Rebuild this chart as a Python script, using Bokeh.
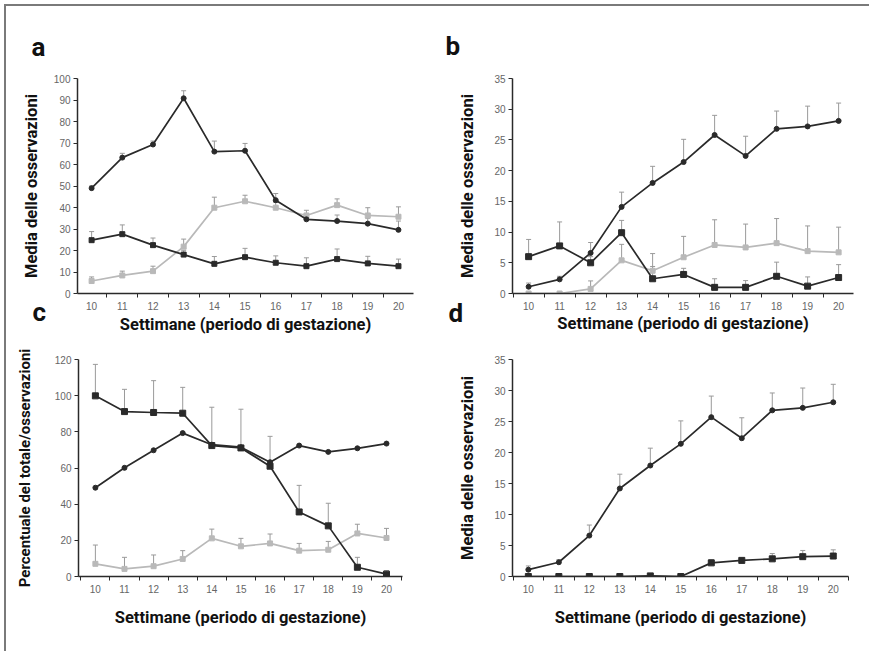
from bokeh.plotting import figure
from bokeh.models import (ColumnDataSource, Whisker, TeeHead, FixedTicker, Range1d, Title, Div)
from bokeh.layouts import column, row
from bokeh.embed import file_html
from bokeh.resources import INLINE

weeks = [10, 11, 12, 13, 14, 15, 16, 17, 18, 19, 20]
minor_weeks = [9.5, 10.5, 11.5, 12.5, 13.5, 14.5, 15.5, 16.5, 17.5, 18.5, 19.5, 20.5]

# Panel a
a_black = [49.0, 63.2, 69.3, 90.8, 66.0, 66.4, 43.4, 34.5, 33.7, 32.5, 29.6]
a_black_err = [1.0, 2.0, 1.6, 3.5, 4.9, 3.4, 3.1, 2.5, 2.8, 2.5, 4.1]
a_dark = [24.8, 27.6, 22.5, 18.1, 13.8, 16.9, 14.3, 12.7, 16.0, 14.0, 12.7]
a_dark_err = [4.0, 4.3, 3.3, 2.0, 3.4, 4.1, 3.2, 3.9, 4.7, 3.3, 3.3]
a_light = [5.8, 8.4, 10.4, 21.8, 39.9, 42.9, 39.9, 36.3, 41.1, 36.3, 35.7]
a_light_err = [1.9, 2.0, 2.3, 3.5, 4.9, 2.8, 2.5, 2.4, 2.9, 3.6, 4.6]

# Panel b
b_black = [1.1, 2.3, 6.6, 14.1, 18.0, 21.4, 25.8, 22.4, 26.8, 27.2, 28.1]
b_black_err = [0.6, 0.5, 1.7, 2.4, 2.7, 3.7, 3.2, 3.2, 2.9, 3.3, 2.9]
b_dark = [6.0, 7.75, 5.0, 9.9, 2.4, 3.1, 1.0, 1.0, 2.8, 1.2, 2.6]
b_dark_err = [2.8, 3.9, 1.0, 2.0, 2.0, 1.0, 1.4, 1.1, 2.3, 1.5, 2.1]
b_light = [0.0, 0.0, 0.75, 5.4, 3.7, 5.9, 7.9, 7.5, 8.2, 6.9, 6.7]
b_light_err = [0.0, 0.0, 1.3, 2.6, 2.8, 3.4, 4.1, 3.8, 4.0, 4.1, 4.1]

# Panel c
c_black = [49.1, 60.1, 69.8, 79.3, 72.9, 71.5, 63.2, 72.4, 68.9, 70.9, 73.5]
c_black_err = [0, 0, 0, 0, 0, 0, 0, 0, 0, 0, 0]
c_dark = [99.9, 91.2, 90.7, 90.3, 72.4, 71.1, 61.0, 35.7, 28.0, 5.1, 1.3]
c_dark_err = [17.4, 12.3, 17.6, 14.3, 21.2, 21.4, 16.5, 14.7, 12.5, 5.5, 2.0]
c_light = [7.0, 4.2, 5.7, 9.7, 21.1, 16.7, 18.3, 14.3, 14.8, 23.8, 21.3]
c_light_err = [10.4, 6.4, 6.2, 4.6, 5.1, 4.4, 5.2, 4.0, 4.6, 5.1, 5.3]

# Panel d
d_black = [1.1, 2.3, 6.6, 14.2, 17.9, 21.4, 25.7, 22.3, 26.8, 27.2, 28.1]
d_black_err = [0.6, 0.4, 1.7, 2.3, 2.8, 3.7, 3.4, 3.3, 2.8, 3.2, 2.9]
d_dark = [0.0, 0.0, 0.0, 0.0, 0.1, 0.0, 2.2, 2.6, 2.85, 3.2, 3.3]
d_dark_err = [0.0, 0.0, 0.0, 0.0, 0.1, 0.0, 0.5, 0.4, 0.85, 1.0, 1.0]

x_title = "Settimane (periodo di gestazione)"
y_title_mean = "Media delle osservazioni"
y_title_pct = "Percentuale del totale/osservazioni"

LABEL_FONT = "Roboto"
TICK_FONT = "Liberation Sans"
DARK = "#2a2a2a"
LIGHT = "#b9b9b9"
ERR = "#9a9a9a"
FRAME = "#7a7a7a"


def add_series(p, ys, errs, color, marker, size):
    upper = [y + e for y, e in zip(ys, errs)]
    src = ColumnDataSource(dict(x=weeks, y=ys, upper=upper))
    if any(e > 0 for e in errs):
        w = Whisker(source=src, base="x", lower="y", upper="upper",
                    line_color=ERR, line_width=1,
                    upper_head=TeeHead(size=5, line_color=ERR, line_width=1),
                    lower_head=None)
        p.add_layout(w)
    p.line("x", "y", source=src, line_color=color, line_width=1.7)
    p.scatter("x", "y", source=src, marker=marker, size=size,
              fill_color=color, line_color=color)


def make_panel(width, height, mb_left, mb_right, mb_top, mb_bottom,
               xr, ymax, ystep, ylabel, xlabel, x_standoff, y_standoff,
               ylabel_size="16.5px"):
    p = figure(width=width, height=height, output_backend="svg",
               toolbar_location=None,
               x_range=Range1d(*xr), y_range=Range1d(0, ymax),
               min_border_left=mb_left, min_border_right=mb_right,
               min_border_top=mb_top, min_border_bottom=mb_bottom)
    p.outline_line_color = None
    p.grid.visible = False
    p.xaxis.ticker = FixedTicker(ticks=weeks, minor_ticks=minor_weeks)
    p.yaxis.ticker = FixedTicker(ticks=list(range(0, ymax + 1, ystep)))
    for ax in (p.xaxis, p.yaxis):
        ax.axis_line_color = DARK
        ax.axis_line_width = 1.5
        ax.major_label_text_font = TICK_FONT
        ax.major_label_text_font_size = "10px"
        ax.major_label_text_color = "#666666"
        ax.axis_label_text_font = LABEL_FONT
        ax.axis_label_text_font_style = "bold"
        ax.axis_label_text_font_size = "16.5px"
        ax.axis_label_text_color = "#111111"
    p.yaxis.axis_label_text_font_size = ylabel_size
    p.xaxis.major_tick_out = 0
    p.xaxis.major_tick_in = 0
    p.xaxis.minor_tick_out = 4
    p.xaxis.minor_tick_in = 0
    p.xaxis.minor_tick_line_color = DARK
    p.yaxis.major_tick_out = 4
    p.yaxis.major_tick_in = 0
    p.yaxis.major_tick_line_color = DARK
    p.yaxis.minor_tick_line_color = None
    p.xaxis.major_label_standoff = 4
    p.yaxis.major_label_standoff = 3
    if xlabel:
        p.xaxis.axis_label = xlabel
        p.xaxis.axis_label_standoff = x_standoff
    p.yaxis.axis_label = ylabel
    p.yaxis.axis_label_standoff = y_standoff
    return p


def letter_above(p, txt, offset, standoff):
    p.add_layout(Title(text=txt, align="left", offset=offset, standoff=standoff,
                       vertical_align="middle", text_font=LABEL_FONT,
                       text_font_style="bold", text_font_size="26px",
                       text_color="#111111"), "above")


def letter_and_xtitle_below(p, txt, offset, l_standoff, x_standoff):
    # panel letter drawn level with the x-axis title (near zero-height title)
    p.add_layout(Title(text=txt, align="left", offset=offset, standoff=l_standoff,
                       vertical_align="top", text_font=LABEL_FONT,
                       text_font_style="bold", text_font_size="26px",
                       text_color="#111111"), "below")
    p.add_layout(Title(text=x_title, align="center", standoff=x_standoff,
                       vertical_align="top", text_font=LABEL_FONT,
                       text_font_style="bold", text_font_size="16.5px",
                       text_color="#111111"), "below")


pa = make_panel(431, 332, 71, 24, 70, 45, (9.54, 20.49), 100, 10, y_title_mean,
                None, 0, 10)
add_series(pa, a_light, a_light_err, LIGHT, "square", 5)
add_series(pa, a_dark, a_dark_err, DARK, "square", 5)
add_series(pa, a_black, a_black_err, DARK, "circle", 5)

pb = make_panel(432, 332, 75, 16, 72, 43, (9.48, 20.48), 35, 5, y_title_mean,
                None, 0, 14)
add_series(pb, b_light, b_light_err, LIGHT, "square", 5)
add_series(pb, b_dark, b_dark_err, DARK, "square", 6)
add_series(pb, b_black, b_black_err, DARK, "circle", 5)

pc = make_panel(431, 313, 72, 35, 21, 73, (9.42, 20.55), 120, 20, y_title_pct,
                x_title, 12, 18, ylabel_size="15px")
add_series(pc, c_light, c_light_err, LIGHT, "square", 5)
add_series(pc, c_dark, c_dark_err, DARK, "square", 6)
add_series(pc, c_black, c_black_err, DARK, "circle", 5)

pd_ = make_panel(432, 313, 75, 21, 21, 75, (9.48, 20.5), 35, 5, y_title_mean,
                 x_title, 12, 14)
add_series(pd_, d_black, d_black_err, DARK, "circle", 5)
add_series(pd_, d_dark, d_dark_err, DARK, "square", 6)

letter_above(pa, "a", -46, 32)
letter_above(pb, "b", -67, 34)
letter_and_xtitle_below(pa, "c", -45, -32, 4)
letter_and_xtitle_below(pb, "d", -64, -30, -2)

top_line = Div(text="", width=865, height=2, margin=0,
               styles={"background-color": FRAME})

layout = column(top_line, row(pa, pb), row(pc, pd_),
                styles={"border-left": "2px solid " + FRAME},
                margin=(4, 0, 0, 4))

open("out.html", "w").write(file_html(layout, INLINE))
